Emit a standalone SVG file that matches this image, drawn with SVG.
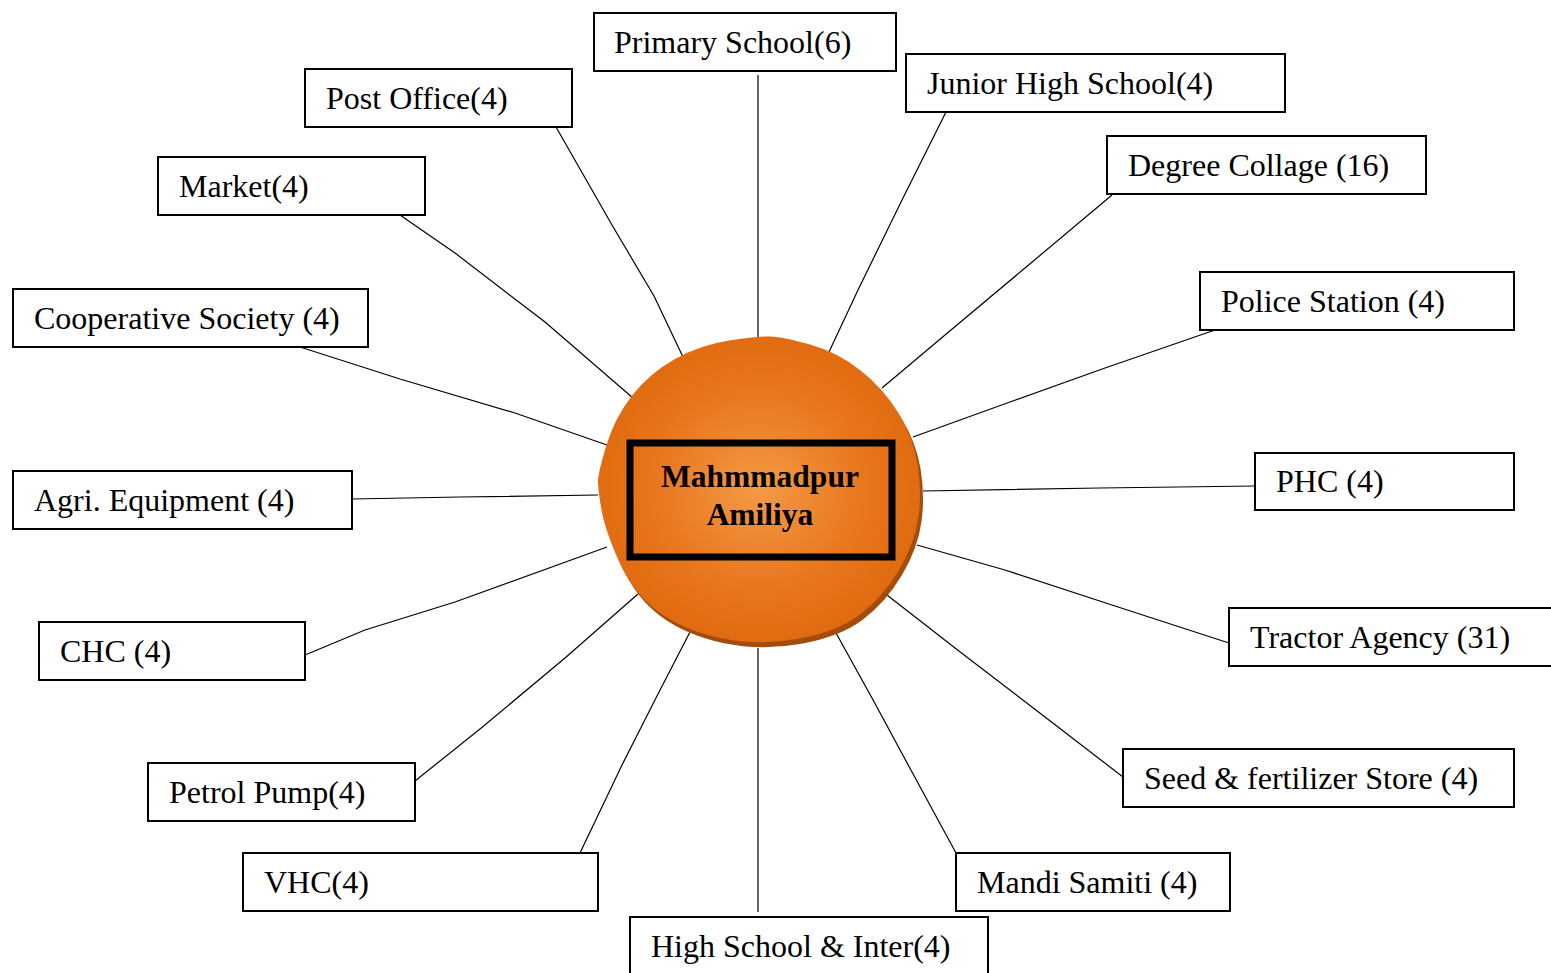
<svg xmlns="http://www.w3.org/2000/svg" width="1551" height="973" viewBox="0 0 1551 973">
  <defs>
    <radialGradient id="hubFill" cx="0.5" cy="0.5" r="0.55">
      <stop offset="0" stop-color="#f49a45"/>
      <stop offset="0.6" stop-color="#e8761e"/>
      <stop offset="1" stop-color="#de680c"/>
    </radialGradient>
    <path id="hubShape" d="M729,340.5 Q758,336 770.5,336.5 Q783,337 810,344.5 Q837,352 860,370 Q883,388 898,412.5 Q913,437 917.5,463.5 Q922,490 918.5,516.5 Q915,543 899,570 Q883,597 860,614.5 Q837,632 797,639 Q757,646 720,638 Q683,630 658,611.5 Q633,593 619,561.5 Q605,530 601.5,510 Q598,490 598,481.5 Q598,473 606.5,445 Q615,417 632.5,395 Q650,373 675,359 Q700,345 729,340.5 Z"/>
  </defs>
  <style>
    .box { fill: #ffffff; stroke: #000000; stroke-width: 2; }
    .lbl { font-family: "Liberation Serif", "Times New Roman", serif; font-size: 32px; fill: #000000; }
    .link { fill: none; stroke: #000000; stroke-width: 1.2; }
    .hub-text { font-family: "Liberation Serif", "Times New Roman", serif; font-size: 31.5px; font-weight: bold; fill: #000000; text-anchor: middle; }
  </style>

  <rect width="1551" height="973" fill="#ffffff"/>

  <g id="connectors">
    <line class="link" x1="758" y1="75" x2="758" y2="338"/>
    <polyline class="link" points="556,127 612,225 654,296 683,357"/>
    <polyline class="link" points="946,112 903,198 858,290 829,352"/>
    <polyline class="link" points="400,215 455,253 545,322 633,398"/>
    <polyline class="link" points="1112,195 1025,268 945,335 882,388"/>
    <polyline class="link" points="300,347 400,379 515,413 607,445"/>
    <polyline class="link" points="1215,330 1105,368 1010,402 913,437"/>
    <polyline class="link" points="352,499 460,497 598,495"/>
    <polyline class="link" points="1255,486 1100,488 923,491"/>
    <polyline class="link" points="305,655 365,630 455,602 607,547"/>
    <polyline class="link" points="1229,643 1115,606 1005,570 917,545"/>
    <polyline class="link" points="415,781 480,729 565,658 638,594"/>
    <polyline class="link" points="1123,777 1045,717 955,648 887,595"/>
    <polyline class="link" points="580,853 622,765 658,694 690,632"/>
    <polyline class="link" points="956,853 912,772 872,698 836,633"/>
    <line class="link" x1="758" y1="912" x2="758" y2="648"/>
  </g>

  <g id="hub">
    <!-- drop shadow, then the orange disc -->
    <use href="#hubShape" fill="#a34c0c" transform="translate(3,5)"/>
    <use href="#hubShape" fill="url(#hubFill)"/>
    <rect x="630" y="443" width="262" height="114" fill="none" stroke="#000000" stroke-width="7"/>
    <text class="hub-text" x="760" y="487">Mahmmadpur</text>
    <text class="hub-text" x="760" y="525">Amiliya</text>
  </g>

  <g id="primary-school">
    <rect class="box" x="594" y="13" width="302" height="58"/>
    <text class="lbl" x="614" y="53">Primary School(6)</text>
  </g>
  <g id="post-office">
    <rect class="box" x="305" y="69" width="267" height="58"/>
    <text class="lbl" x="326" y="109">Post Office(4)</text>
  </g>
  <g id="junior-high-school">
    <rect class="box" x="906" y="54" width="379" height="58"/>
    <text class="lbl" x="927" y="94">Junior High School(4)</text>
  </g>
  <g id="market">
    <rect class="box" x="158" y="157" width="267" height="58"/>
    <text class="lbl" x="179" y="197">Market(4)</text>
  </g>
  <g id="degree-collage">
    <rect class="box" x="1107" y="136" width="319" height="58"/>
    <text class="lbl" x="1128" y="176">Degree Collage (16)</text>
  </g>
  <g id="cooperative-society">
    <rect class="box" x="13" y="289" width="355" height="58"/>
    <text class="lbl" x="34" y="329">Cooperative Society (4)</text>
  </g>
  <g id="police-station">
    <rect class="box" x="1200" y="272" width="314" height="58"/>
    <text class="lbl" x="1221" y="312">Police Station (4)</text>
  </g>
  <g id="agri-equipment">
    <rect class="box" x="13" y="471" width="339" height="58"/>
    <text class="lbl" x="34" y="511">Agri. Equipment (4)</text>
  </g>
  <g id="phc">
    <rect class="box" x="1255" y="453" width="259" height="57"/>
    <text class="lbl" x="1276" y="492">PHC (4)</text>
  </g>
  <g id="chc">
    <rect class="box" x="39" y="622" width="266" height="58"/>
    <text class="lbl" x="60" y="662">CHC (4)</text>
  </g>
  <g id="tractor-agency">
    <rect class="box" x="1229" y="608" width="330" height="58"/>
    <text class="lbl" x="1250" y="648">Tractor Agency (31)</text>
  </g>
  <g id="petrol-pump">
    <rect class="box" x="148" y="763" width="267" height="58"/>
    <text class="lbl" x="169" y="803">Petrol Pump(4)</text>
  </g>
  <g id="seed-fertilizer-store">
    <rect class="box" x="1123" y="749" width="391" height="58"/>
    <text class="lbl" x="1144" y="789">Seed &amp; fertilizer Store (4)</text>
  </g>
  <g id="vhc">
    <rect class="box" x="243" y="853" width="355" height="58"/>
    <text class="lbl" x="264" y="893">VHC(4)</text>
  </g>
  <g id="mandi-samiti">
    <rect class="box" x="956" y="853" width="274" height="58"/>
    <text class="lbl" x="977" y="893">Mandi Samiti (4)</text>
  </g>
  <g id="high-school-inter">
    <rect class="box" x="630" y="917" width="358" height="64"/>
    <text class="lbl" x="651" y="957">High School &amp; Inter(4)</text>
  </g>
</svg>
